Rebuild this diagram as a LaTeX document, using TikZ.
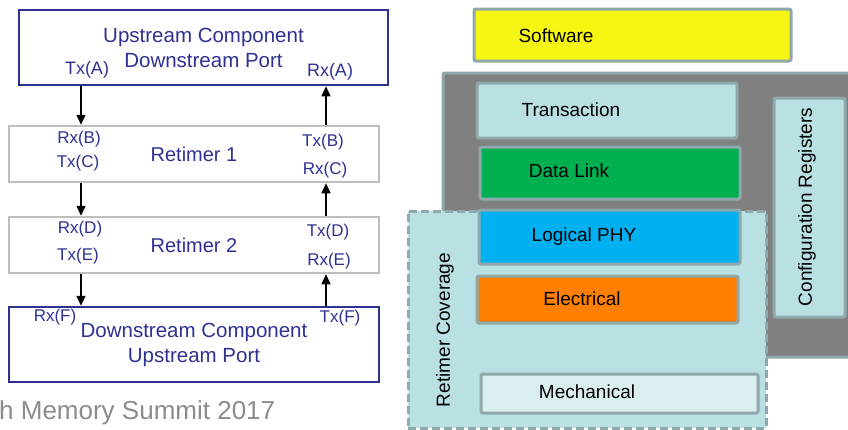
\documentclass[tikz,border=0pt]{standalone}
\usepackage{fontspec}
\setmainfont{Liberation Sans}
\usetikzlibrary{arrows.meta}
\definecolor{portblue}{RGB}{46,49,146}
\definecolor{rtgray}{RGB}{190,190,190}
\definecolor{edgegray}{RGB}{143,168,171}
\definecolor{swyellow}{RGB}{246,246,20}
\definecolor{stackgray}{RGB}{128,128,128}
\definecolor{paleblue}{RGB}{185,224,227}
\definecolor{dlgreen}{RGB}{0,176,80}
\definecolor{phyblue}{RGB}{0,176,240}
\definecolor{elorange}{RGB}{255,128,0}
\definecolor{mechfill}{RGB}{218,238,240}
\definecolor{footgray}{RGB}{140,140,140}

\begin{document}
\begin{tikzpicture}[x=1pt, y=-1pt,
    port/.style={draw=portblue, line width=2.5pt, text=portblue, align=center, inner sep=0pt, font=\fontsize{20.5}{25}\selectfont},
    retimer/.style={draw=rtgray, line width=2.5pt, text=portblue, inner sep=0pt, font=\fontsize{20}{24}\selectfont},
    pin/.style={text=portblue, inner sep=0pt, font=\fontsize{17}{20}\selectfont},
    link/.style={line width=1.5pt, -{Triangle[length=10pt,width=9pt]}},
    layer/.style={draw=edgegray, line width=3pt, rounded corners=2pt, inner sep=0pt},
    lname/.style={inner sep=0pt, font=\fontsize{19}{22}\selectfont}]
    \useasboundingbox (0,0) rectangle (848,429);

    % Left: the link chain
    \node[port, minimum width=369pt, minimum height=75pt] (up) at (203.5,47.5) {Upstream Component\\Downstream Port};
    \node[retimer, minimum width=370pt, minimum height=56pt] (rt1) at (194,154) {Retimer 1};
    \node[retimer, minimum width=370pt, minimum height=56pt] (rt2) at (194,245) {Retimer 2};
    \node[port, minimum width=370pt, minimum height=75pt] (down) at (194,344.5) {Downstream Component\\Upstream Port};

    % Tx / Rx labels
    \node[pin, font=\fontsize{18}{21}\selectfont] (txa) at (87,70) {Tx(A)};
    \node[pin, font=\fontsize{18}{21}\selectfont] (rxa) at (330,72) {Rx(A)};
    \node[pin] (rxb) at (79,139) {Rx(B)};
    \node[pin] (txc) at (78,163) {Tx(C)};
    \node[pin] (txb) at (323,142) {Tx(B)};
    \node[pin] (rxc) at (325,170) {Rx(C)};
    \node[pin] (rxd) at (80,229) {Rx(D)};
    \node[pin] (txe) at (78,256) {Tx(E)};
    \node[pin] (txd) at (328,232) {Tx(D)};
    \node[pin] (rxe) at (329,261) {Rx(E)};
    \node[pin] (rxf) at (55,317) {Rx(F)};
    \node[pin] (txf) at (340,318) {Tx(F)};

    % Arrow lanes
    \coordinate (lane1) at (81,0);
    \coordinate (lane2) at (326,0);
    \draw[link] (up.south -| lane1) -- (rt1.north -| lane1);
    \draw[link] (rt1.north -| lane2) -- (up.south -| lane2);
    \draw[link] (rt1.south -| lane1) -- (rt2.north -| lane1);
    \draw[link] (rt2.north -| lane2) -- (rt1.south -| lane2);
    \draw[link] (rt2.south -| lane1) -- (down.north -| lane1);
    \draw[link] (down.north -| lane2) -- (rt2.south -| lane2);

    % Footer
    \node[text=footgray, anchor=west, inner sep=0pt, font=\fontsize{26}{30}\selectfont] (foot) at (-1,413) {h Memory Summit 2017};

    % Right: the layer stack
    \node[layer, fill=swyellow, minimum width=317pt, minimum height=52pt] (sw) at (632.5,35) {};
    \node[layer, fill=stackgray, minimum width=413pt, minimum height=284pt] (stack) at (649.5,215) {};
    \node[layer, fill=paleblue, minimum width=260pt, minimum height=55pt] (trans) at (607,110.5) {};
    \node[layer, fill=dlgreen, minimum width=260pt, minimum height=52pt] (dl) at (610,173) {};
    \node[layer, fill=paleblue, minimum width=71pt, minimum height=219pt] (cfg) at (809.5,207.5) {};
    % Retimer coverage (dashed)
    \node[layer, fill=paleblue, rounded corners=0pt, dash pattern=on 8pt off 4pt, minimum width=358pt, minimum height=217pt] (cover) at (587,319.5) {};
    \node[layer, fill=phyblue, minimum width=261pt, minimum height=54pt] (phy) at (609.5,237) {};
    \node[layer, fill=elorange, minimum width=261pt, minimum height=47pt] (elec) at (607.5,299.5) {};
    \node[layer, fill=mechfill, minimum width=277pt, minimum height=39pt] (mech) at (619.5,393.5) {};

    % Layer names
    \node[lname] (swname) at (556,36) {Software};
    \node[lname] (transname) at (571,110) {Transaction};
    \node[lname] (dlname) at (569,171) {Data Link};
    \node[lname, text height=0.72em, text depth=0pt] (phyname) at (584,238) {Logical PHY};
    \node[lname] (elecname) at (582,299) {Electrical};
    \node[lname] (mechname) at (587,392) {Mechanical};
    \node[lname, rotate=90] (covername) at (445,330) {Retimer Coverage};
    \node[lname, rotate=90] (cfgname) at (807,207) {Configuration Registers};
\end{tikzpicture}
\end{document}
